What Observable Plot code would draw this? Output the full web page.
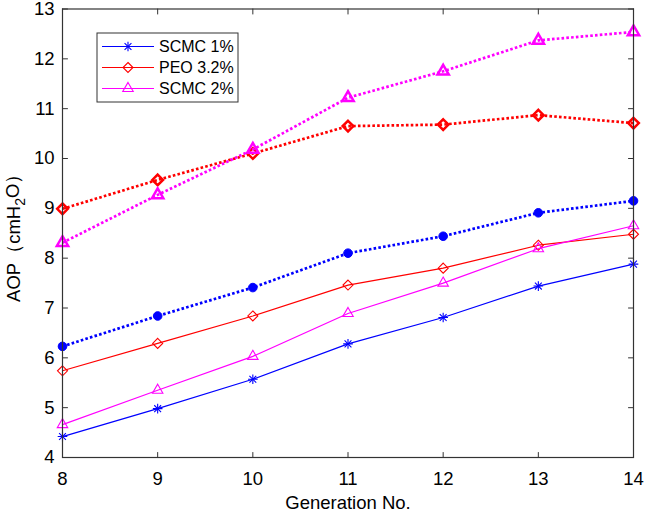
<!DOCTYPE html>
<html>
<head>
<meta charset="utf-8">
<script src="https://cdn.jsdelivr.net/npm/d3@7"></script>
<script src="https://cdn.jsdelivr.net/npm/@observablehq/plot@0.6"></script>
<style>
  html, body { margin: 0; padding: 0; background: #fff; }
  #chart { width: 645px; height: 513px; }
</style>
</head>
<body>
<div id="chart"></div>
<script>
// ---- data ----
const generations = [8, 9, 10, 11, 12, 13, 14];
const scmc1 = [4.42, 4.98, 5.57, 6.28, 6.81, 7.44, 7.88];
const peo32 = [5.74, 6.29, 6.84, 7.46, 7.80, 8.26, 8.48];
const scmc2 = [4.66, 5.35, 6.03, 6.89, 7.50, 8.19, 8.65];
const scmc1Dotted = [6.23, 6.84, 7.41, 8.10, 8.44, 8.91, 9.15];
const peo32Dotted = [8.99, 9.57, 10.10, 10.65, 10.68, 10.87, 10.71];
const scmc2Dotted = [8.31, 9.27, 10.18, 11.22, 11.75, 12.37, 12.54];
const legendNames = ["SCMC 1%", "PEO 3.2%", "SCMC 2%"];
const xTicks = [8, 9, 10, 11, 12, 13, 14];
const yTicks = [4, 5, 6, 7, 8, 9, 10, 11, 12, 13];
const xLabel = "Generation No.";
const yLabel = "AOP（cmH2O）";

// ---- styles ----
const BLUE = "#0000ff", RED = "#ff0000", MAGENTA = "#ff00ff", AXIS = "#333333";
const series = [
  {values: scmc1, color: BLUE, dotted: false, kind: "asterisk"},
  {values: peo32, color: RED, dotted: false, kind: "diamond"},
  {values: scmc2, color: MAGENTA, dotted: false, kind: "triangle"},
  {values: scmc1Dotted, color: BLUE, dotted: true, kind: "circle"},
  {values: peo32Dotted, color: RED, dotted: true, kind: "diamond"},
  {values: scmc2Dotted, color: MAGENTA, dotted: true, kind: "triangle"}
];

function rows(s) { return generations.map((g, i) => ({gen: g, value: s.values[i]})); }

function markerMarks(data, s) {
  const sw = s.dotted ? 2.5 : 1.1;
  const base = {x: "gen", y: "value", stroke: s.color, strokeWidth: sw};
  if (s.kind === "asterisk") return [
    Plot.dot(data, {...base, symbol: "plus", r: 3.2}),
    Plot.dot(data, {...base, symbol: "times", r: 3.2})
  ];
  if (s.kind === "diamond") return [Plot.dot(data, {...base, symbol: "diamond2", r: s.dotted ? 4.8 : 4.5, fill: "none"})];
  if (s.kind === "triangle") return [Plot.dot(data, {...base, symbol: "triangle2", r: s.dotted ? 5.4 : 5.0, fill: "none"})];
  return [Plot.dot(data, {...base, symbol: "circle", r: 4.3, fill: s.color, strokeWidth: 1})];
}

const seriesMarks = series.flatMap(s => {
  const data = rows(s);
  return [
    Plot.line(data, {
      x: "gen", y: "value", stroke: s.color,
      strokeWidth: s.dotted ? 2.7 : 1.2,
      strokeLinecap: "butt",
      strokeDasharray: s.dotted ? "2.6,2.2" : null
    }),
    ...markerMarks(data, s)
  ];
});

const tickShape = {draw(ctx, l) { ctx.moveTo(0, 0); ctx.lineTo(0, -l); }};
const tickOpts = {length: 5, anchor: "start", shape: tickShape, stroke: AXIS, strokeWidth: 1};

const chart = Plot.plot({
  width: 645,
  height: 513,
  marginLeft: 62,
  marginRight: 12,
  marginTop: 8.5,
  marginBottom: 56,
  x: {domain: [8, 14]},
  y: {domain: [4, 13]},
  style: {fontFamily: "'Liberation Sans', Arial, Helvetica, sans-serif", fontSize: "18.5px", color: "#000", background: "#fff"},
  marks: [
    Plot.axisX({ticks: xTicks, tickSize: 0, tickPadding: 14, label: null, tickFormat: d => String(d)}),
    Plot.axisY({ticks: yTicks, tickSize: 0, tickPadding: 8, label: null, tickFormat: d => String(d)}),
    Plot.vector(yTicks, {...tickOpts, y: d => d, frameAnchor: "left", rotate: 90}),
    Plot.vector(yTicks, {...tickOpts, y: d => d, frameAnchor: "right", rotate: -90}),
    Plot.vector(xTicks, {...tickOpts, x: d => d, frameAnchor: "bottom", rotate: 0}),
    Plot.vector(xTicks, {...tickOpts, x: d => d, frameAnchor: "top", rotate: 180}),
    ...seriesMarks,
    Plot.frame({stroke: AXIS, strokeWidth: 1.2}),
    Plot.text([xLabel], {frameAnchor: "bottom", dy: 46, lineAnchor: "middle", textAnchor: "middle", fill: "#000"}),
    Plot.text([yLabel], {frameAnchor: "left", dx: -48, rotate: -90, lineAnchor: "middle", textAnchor: "middle", fill: "#000"})
  ]
});

document.getElementById("chart").appendChild(chart);

// subscript in the y label
const svg = d3.select(chart);
svg.selectAll("text").filter(function () { return this.textContent === yLabel; }).each(function () {
  const yl = d3.select(this);
  yl.text(null);
  yl.append("tspan").text("AOP（cmH");
  yl.append("tspan").attr("dy", "0.32em").attr("font-size", "14px").text("2");
  yl.append("tspan").attr("dy", "-0.32em").text("O）");
});

// legend
const lg = svg.append("g").attr("class", "legend").attr("text-anchor", "start");
lg.append("rect").attr("x", 97).attr("y", 33).attr("width", 141).attr("height", 69)
  .attr("fill", "#fff").attr("stroke", AXIS).attr("stroke-width", 1);
const legendSeries = series.slice(0, 3);
legendSeries.forEach((s, i) => {
  const cy = 46.5 + i * 21;
  const g = lg.append("g");
  g.append("line").attr("x1", 102).attr("x2", 154).attr("y1", cy).attr("y2", cy)
    .attr("stroke", s.color).attr("stroke-width", 1.2);
  const sym = (type, r) => d3.symbol(type, Math.PI * r * r)();
  const mk = (type, r) => g.append("path").attr("d", sym(type, r))
    .attr("transform", `translate(128,${cy})`).attr("fill", "none")
    .attr("stroke", s.color).attr("stroke-width", 1.1);
  if (s.kind === "asterisk") { mk(d3.symbolPlus, 3.2); mk(d3.symbolTimes, 3.2); }
  else if (s.kind === "diamond") mk(d3.symbolDiamond2, 4.5);
  else mk(d3.symbolTriangle2, 5.0);
  g.append("text").attr("x", 159).attr("y", cy).attr("dy", "0.36em")
    .attr("text-anchor", "start")
    .attr("font-size", "16px").attr("fill", "#000").text(legendNames[i]);
});
</script>
</body>
</html>
